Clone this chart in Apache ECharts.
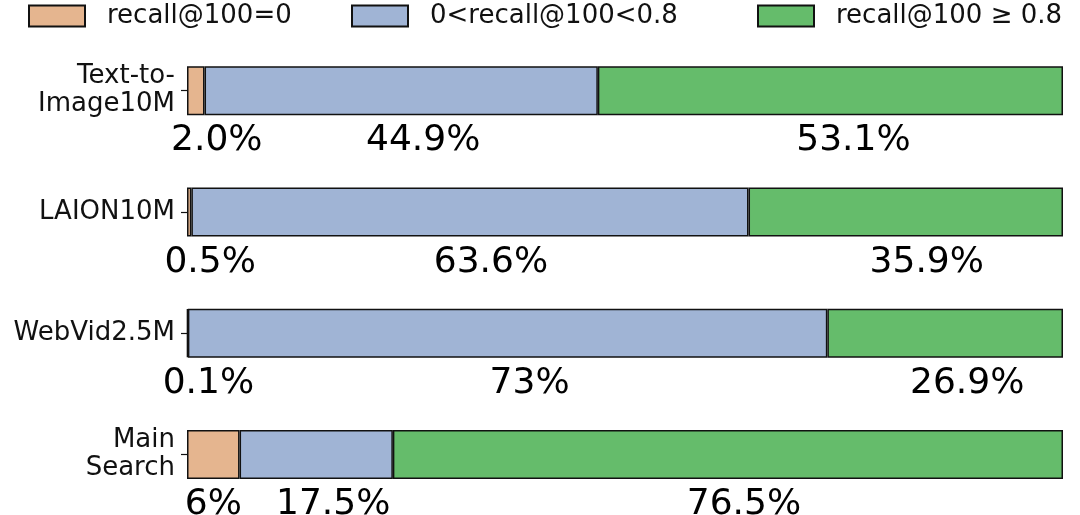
<!DOCTYPE html>
<html><head><meta charset="utf-8">
<script src="https://cdn.jsdelivr.net/npm/echarts@6/dist/echarts.min.js"></script>
<style>html,body{margin:0;padding:0;background:#fff}#c{width:1080px;height:515px}</style>
</head><body><div id="c"></div>
<script>
const categories = ['Text-to-\nImage10M', 'LAION10M', 'WebVid2.5M', 'Main\nSearch'];
const seriesNames = ['recall@100=0', '0<recall@100<0.8', 'recall@100 \u2265 0.8'];
const zeroRecall = [2.0, 0.5, 0.1, 6];
const midRecall = [44.9, 63.6, 73, 17.5];
const highRecall = [53.1, 35.9, 26.9, 76.5];
const zeroLabels = ['2.0%', '0.5%', '0.1%', '6%'];
const midLabels = ['44.9%', '63.6%', '73%', '17.5%'];
const highLabels = ['53.1%', '35.9%', '26.9%', '76.5%'];
const colors = ['#E5B58F', '#A0B4D5', '#65BC6B'];
const labelShift = [[21, 21, 21, 0], [22, 21, 22, 17], [23, 21, 22, 16]];
const legendLeft = [23, 346, 752];

const FONT = 'DejaVu Sans';
function makeSeries(idx, values, labels) {
  return {
    name: seriesNames[idx], type: 'bar', stack: 'total', barWidth: 49,
    itemStyle: { color: colors[idx], borderColor: '#111', borderWidth: 1.5 },
    label: { show: true, position: 'bottom', distance: 7, fontFamily: FONT, fontSize: 36, color: '#000',
      formatter: p => labels[p.dataIndex] },
    data: values.map((v, i) => ({ value: v, label: { offset: [labelShift[idx][i], 1] } }))
  };
}
const chart = echarts.init(document.getElementById('c'), null, { renderer: 'canvas' });
chart.setOption({
  animation: false,
  textStyle: { fontFamily: FONT },
  legend: seriesNames.map((n, i) => ({
    left: legendLeft[i], top: -2, itemWidth: 56, itemHeight: 21, icon: 'rect', selectedMode: false,
    textStyle: { fontFamily: FONT, fontSize: 26, color: '#111', padding: [0, 0, 0, 17] },
    data: [n]
  })),
  grid: { left: 187, right: 17, top: 30, bottom: -1, containLabel: false },
  xAxis: { type: 'value', min: 0, max: 100, show: false },
  yAxis: {
    type: 'category', data: categories, inverse: true,
    axisLine: { show: false },
    axisTick: { show: true, alignWithLabel: true, length: 6, lineStyle: { color: '#111', width: 1.2 } },
    axisLabel: { margin: 12, fontFamily: FONT, fontSize: 26, color: '#111', lineHeight: 28, align: 'right', padding: [6, 0, 0, 0] }
  },
  series: [makeSeries(0, zeroRecall, zeroLabels), makeSeries(1, midRecall, midLabels), makeSeries(2, highRecall, highLabels)]
});
</script></body></html>
